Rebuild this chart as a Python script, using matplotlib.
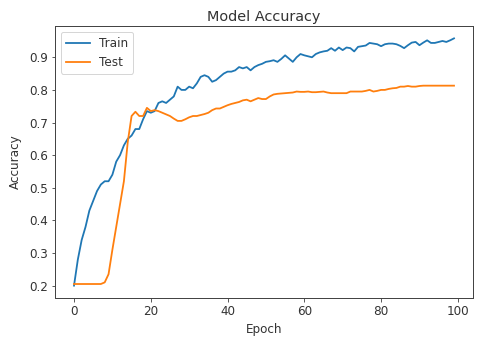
import numpy as np
import matplotlib
matplotlib.use('Agg')
import matplotlib.pyplot as plt

# accuracy per epoch
train_acc = [0.20, 0.28, 0.34, 0.38, 0.43, 0.46, 0.49, 0.51, 0.52, 0.52,
             0.54, 0.58, 0.60, 0.63, 0.65, 0.66, 0.68, 0.68, 0.71, 0.735,
             0.73, 0.735, 0.76, 0.765, 0.76, 0.77, 0.78, 0.81, 0.80, 0.80,
             0.81, 0.805, 0.82, 0.84, 0.845, 0.84, 0.825, 0.83, 0.84, 0.85,
             0.856, 0.856, 0.86, 0.87, 0.866, 0.87, 0.86, 0.87, 0.876, 0.88,
             0.886, 0.888, 0.891, 0.886, 0.895, 0.906, 0.896, 0.886, 0.90, 0.91,
             0.906, 0.903, 0.90, 0.91, 0.915, 0.918, 0.92, 0.928, 0.92, 0.93,
             0.922, 0.93, 0.928, 0.918, 0.932, 0.934, 0.936, 0.944, 0.942, 0.94,
             0.934, 0.94, 0.942, 0.942, 0.94, 0.935, 0.928, 0.937, 0.945, 0.947,
             0.937, 0.945, 0.952, 0.944, 0.944, 0.947, 0.95, 0.947, 0.952, 0.958]
test_acc = [0.205, 0.205, 0.205, 0.205, 0.205, 0.205, 0.205, 0.205, 0.21, 0.235,
            0.31, 0.38, 0.45, 0.52, 0.64, 0.72, 0.733, 0.72, 0.72, 0.745,
            0.735, 0.738, 0.735, 0.73, 0.725, 0.72, 0.712, 0.705, 0.705, 0.71,
            0.716, 0.72, 0.72, 0.723, 0.726, 0.73, 0.738, 0.743, 0.743, 0.748,
            0.753, 0.757, 0.76, 0.763, 0.768, 0.77, 0.765, 0.77, 0.775, 0.772,
            0.772, 0.78, 0.786, 0.788, 0.789, 0.79, 0.791, 0.792, 0.795, 0.794,
            0.794, 0.795, 0.793, 0.793, 0.794, 0.795, 0.792, 0.79, 0.79, 0.79,
            0.79, 0.79, 0.795, 0.795, 0.795, 0.795, 0.797, 0.80, 0.795, 0.797,
            0.80, 0.80, 0.803, 0.805, 0.806, 0.81, 0.81, 0.812, 0.81, 0.81,
            0.812, 0.813, 0.813, 0.813, 0.813, 0.813, 0.813, 0.813, 0.813, 0.813]

plt.rcParams['font.size'] = 12
plt.rcParams['text.color'] = '#333333'
plt.rcParams['axes.labelcolor'] = '#333333'
plt.rcParams['xtick.color'] = '#333333'
plt.rcParams['ytick.color'] = '#333333'
plt.rcParams['axes.edgecolor'] = '#444444'
plt.rcParams['axes.linewidth'] = 1.0

fig = plt.figure(figsize=(481/72, 343/72), dpi=72)
ax = fig.add_axes([55/481, 45/343, 418/481, 272/343])
ax.plot(train_acc, lw=1.8)
ax.plot(test_acc, lw=1.8)
ax.set_title('Model Accuracy', pad=5)
ax.set_ylabel('Accuracy', labelpad=7)
ax.set_xlabel('Epoch', labelpad=5)
ax.legend(['Train', 'Test'], loc='upper left')
fig.savefig('out.png', dpi=72)
